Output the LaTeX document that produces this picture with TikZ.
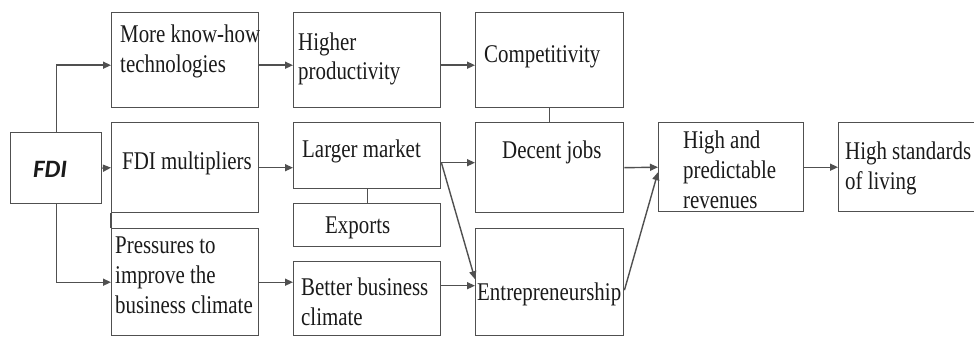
\documentclass[tikz,border=0pt]{standalone}
\usepackage{fontspec}
\setmainfont[FakeStretch=0.82]{Liberation Serif}
\newfontfamily\fdifont{Carlito}
\usetikzlibrary{arrows.meta}
\definecolor{boxgray}{HTML}{505050}
\definecolor{txt}{HTML}{1A1A1A}

\begin{document}
\begin{tikzpicture}[x=1pt,y=-1pt,
  box/.style={draw=boxgray, line width=1.4pt, inner sep=0pt, anchor=north west},
  lbl/.style={anchor=base west, inner sep=0pt, align=left, text=txt,
              font=\fontsize{25.5}{29.7}\selectfont},
  link/.style={draw=boxgray, line width=1.4pt},
  arr/.style={link, -{Triangle[length=8pt,width=7pt]}}]
\useasboundingbox (0,0) rectangle (974,337);
\clip (0,0) rectangle (974,337);

% boxes
\node[box, minimum width=91pt,  minimum height=71pt]  (fdi)     at (10,132)  {};
\node[box, minimum width=147pt, minimum height=95pt]  (know)    at (111,12)  {};
\node[box, minimum width=147pt, minimum height=90pt]  (mult)    at (111,122) {};
\node[box, minimum width=147pt, minimum height=107pt] (press)   at (111,228) {};
\node[box, minimum width=147pt, minimum height=95pt]  (higher)  at (293,12)  {};
\node[box, minimum width=147pt, minimum height=66pt]  (larger)  at (293,122) {};
\node[box, minimum width=147pt, minimum height=43pt]  (exports) at (293,203) {};
\node[box, minimum width=147pt, minimum height=74pt]  (better)  at (293,261) {};
\node[box, minimum width=148pt, minimum height=95pt]  (comp)    at (475,12)  {};
\node[box, minimum width=148pt, minimum height=90pt]  (decent)  at (475,122) {};
\node[box, minimum width=148pt, minimum height=107pt] (entre)   at (475,228) {};
\node[box, minimum width=145pt, minimum height=89pt]  (hi)      at (658,122) {};
\node[box, minimum width=160pt, minimum height=89pt]  (std)     at (838,122) {};

% labels (multi-line labels are placed by the baseline of their last line)
\node[anchor=base west, inner sep=0pt, text=txt,
      font=\fdifont\bfseries\itshape\fontsize{25}{30}\selectfont] (tfdi) at (33,177) {FDI};
\node[lbl] (tknow)    at (120,72)  {More know-how\\technologies};
\node[lbl] (tmult)    at (122,169) {FDI multipliers};
\node[lbl] (tpress)   at (115,313) {Pressures to\\improve the\\business climate};
\node[lbl] (thigher)  at (298,80)  {Higher\\productivity};
\node[lbl] (tlarger)  at (302,157) {Larger market};
\node[lbl] (texports) at (325,233) {Exports};
\node[lbl] (tbetter)  at (301,325) {Better business\\climate};
\node[lbl] (tcomp)    at (484,63)  {Competitivity};
\node[lbl] (tdecent)  at (502,158) {Decent jobs};
\node[lbl] (tentre)   at (477,300) {Entrepreneurship};
\node[lbl] (thi)      at (683,208) {High and\\predictable\\revenues};
\node[lbl] (tstd)     at (845,189) {High standards\\of living};

% connectors
\draw[arr] (fdi.north) |- ([yshift=-5pt]know.west);
\draw[arr] (fdi.east) -- (mult.west);
\draw[arr] (fdi.south) |- (press.west);
\draw[link] (mult.south west) -- (press.north west);
\draw[arr] ([yshift=-5pt]know.east) -- ([yshift=-5pt]higher.west);
\draw[arr] ([yshift=-5pt]higher.east) -- ([yshift=-5pt]comp.west);
\draw[arr] (mult.east) -- (mult.east -| larger.west);
\coordinate (lm) at ([yshift=-7pt]larger.east);
\draw[arr] (lm) -- (lm -| decent.west);
\draw[arr] (lm) -- ([yshift=3pt]entre.west);
\draw[arr] (press.east) -- (press.east -| better.west);
\coordinate (bb) at ([yshift=13pt]better.east);
\draw[arr] (bb) -- (bb -| entre.west);
\draw[link] (larger.south) -- (exports.north);
\draw[link] (comp.south) -- (decent.north);
\draw[arr] (decent.east) -- (hi.west);
\draw[arr] ([yshift=-8pt]entre.east) -- ([yshift=-5pt]hi.west);
\draw[arr] (hi.east) -- (std.west);
\end{tikzpicture}
\end{document}
